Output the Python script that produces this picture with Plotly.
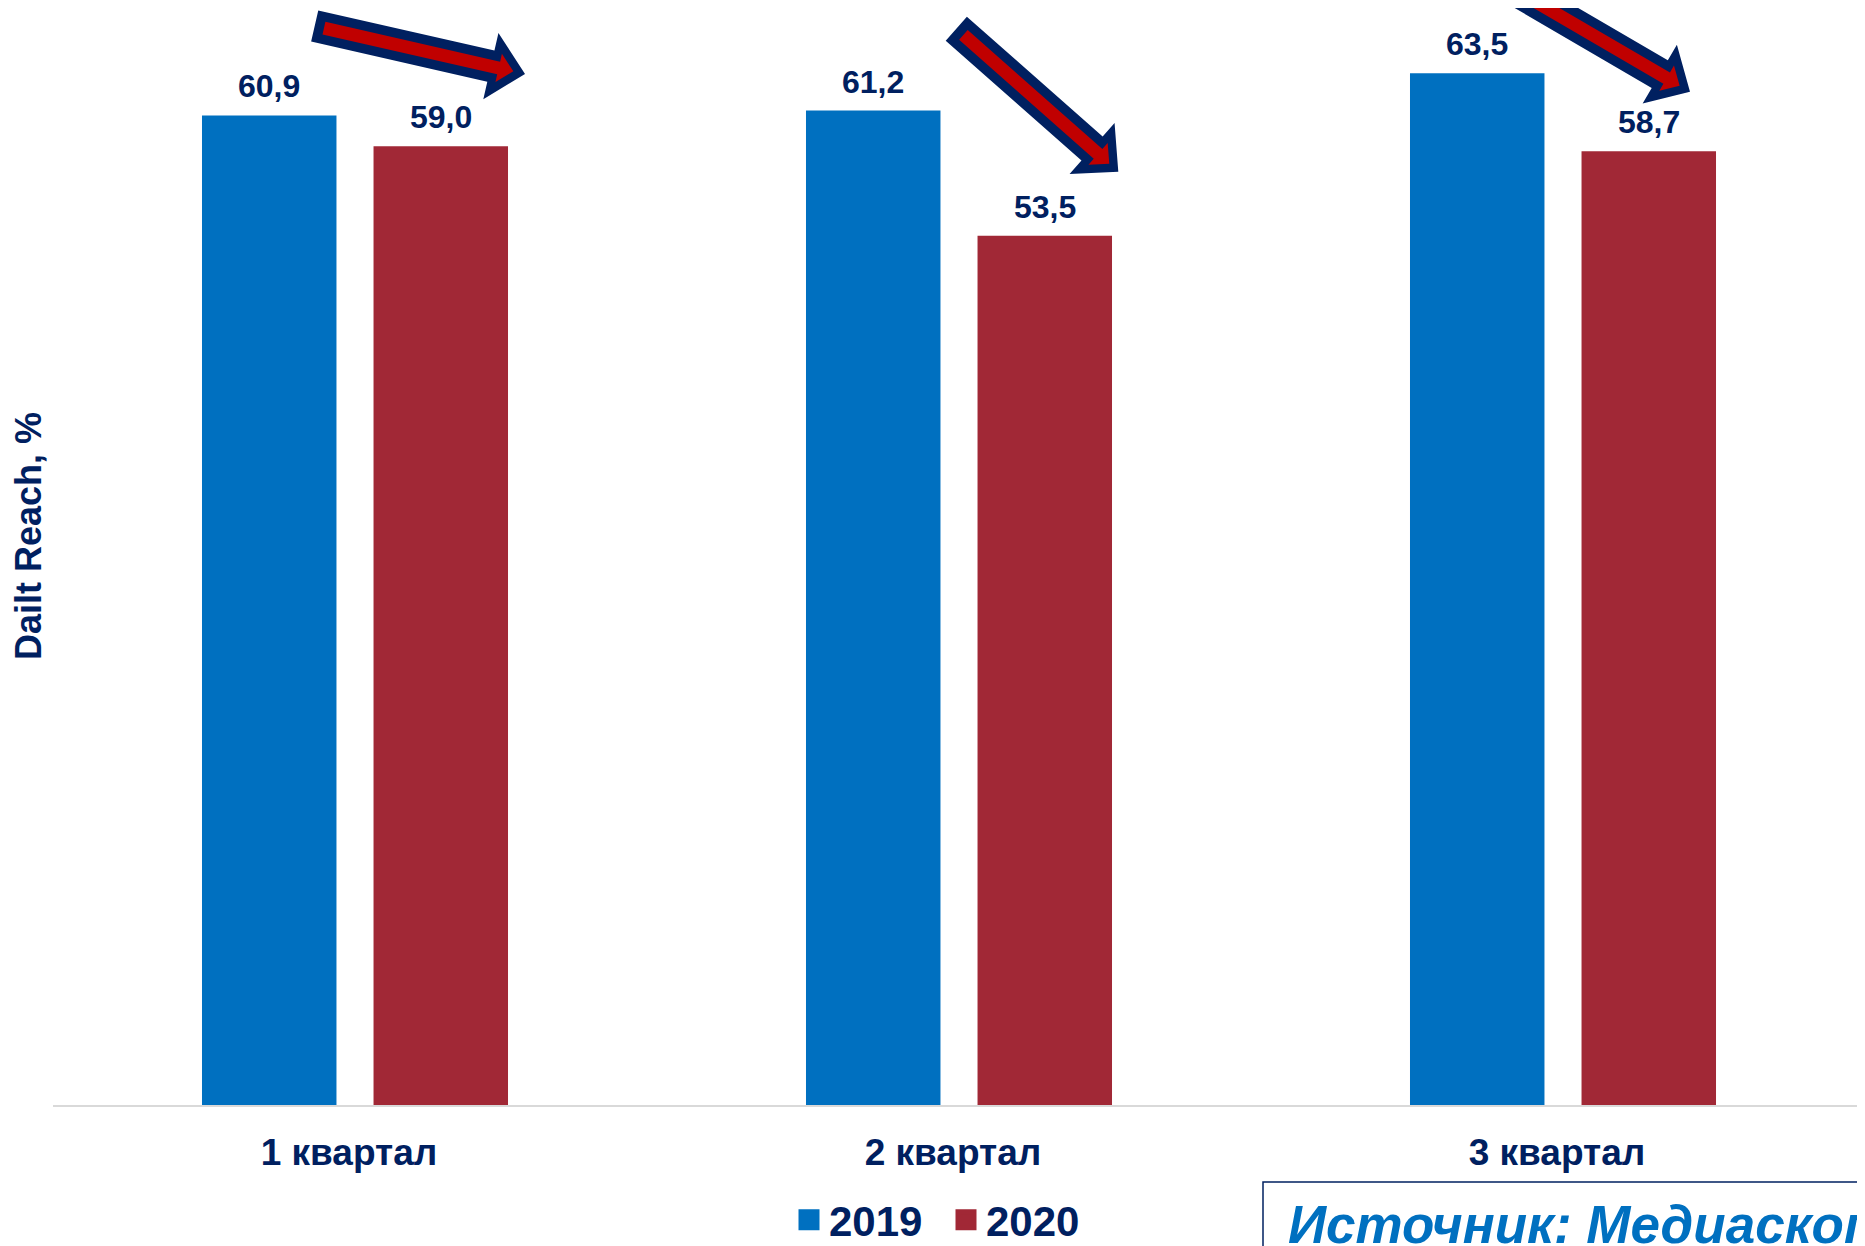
import plotly.graph_objects as go
import math

# ---------------- data ----------------
categories = ["1 квартал", "2 квартал", "3 квартал"]
values_2019 = [60.9, 61.2, 63.5]
values_2020 = [59.0, 53.5, 58.7]
labels_2019 = ["60,9", "61,2", "63,5"]
labels_2020 = ["59,0", "53,5", "58,7"]
series_names = ["2019", "2020"]
y_title = "Dailt Reach, %"
source_text = "Источник: Медиаскоп"

# ---------------- styles ----------------
OFF = 8                       # page body margin
W, H = 1865 - OFF, 1246 - OFF
PAGE_BOTTOM = 1105            # page y of the x axis line
ML, MR, MT = 53 - OFF, 0, 0
MB = H - (PAGE_BOTTOM - OFF)
PW, PH = W - ML - MR, H - MT - MB
PX_PER_UNIT = 16.25
Y_MAX = PH / PX_PER_UNIT
NAVY = "#002060"
BLUE = "#0070C0"
RED = "#A12836"
ARROW_RED = "#C00000"
FONT = "Liberation Sans, Arial, sans-serif"


def px(x, y):
    """page pixel -> paper coordinates"""
    x -= OFF
    y -= OFF
    return (x - ML) / PW, (MT + PH - y) / PH


fig = go.Figure()

fig.add_trace(go.Bar(x=categories, y=values_2019, name=series_names[0],
                     marker=dict(color=BLUE, line=dict(width=0)), showlegend=False))
fig.add_trace(go.Bar(x=categories, y=values_2020, name=series_names[1],
                     marker=dict(color=RED, line=dict(width=0)), showlegend=False))

# legend entries (square markers)
for nm, col in zip(series_names, [BLUE, RED]):
    fig.add_trace(go.Scatter(x=[None], y=[None], mode="markers", name=nm,
                             marker=dict(symbol="square", size=16, color=col,
                                         line=dict(color=col, width=5))))

# value labels
offset = 85.7
for cat, v, t in zip(categories, values_2019, labels_2019):
    fig.add_annotation(x=cat, y=v, text=t, showarrow=False, xshift=-offset, yshift=29,
                       yanchor="middle", font=dict(family=FONT, size=32, color=NAVY, weight="bold"))
for cat, v, t in zip(categories, values_2020, labels_2020):
    fig.add_annotation(x=cat, y=v, text=t, showarrow=False, xshift=offset, yshift=29,
                       yanchor="middle", font=dict(family=FONT, size=32, color=NAVY, weight="bold"))

# y-axis title
xt, yt = px(28, 536)
fig.add_annotation(x=xt, y=yt, xref="paper", yref="paper", text=y_title, showarrow=False,
                   textangle=-90, xanchor="center", yanchor="middle",
                   font=dict(family=FONT, size=36, color=NAVY, weight="bold"))

# decorative arrows (page pixel geometry: tail, tip)
arrows = [((314.7, 26.0), (525.0, 74.0)),
          ((956.3, 28.7), (1118.3, 171.7)),
          ((1495.0, -22.0), (1690.0, 91.7))]


def arrow_path(tail, tip, sw, hw, hl):
    dx, dy = tip[0] - tail[0], tip[1] - tail[1]
    L = math.hypot(dx, dy)
    ux, uy = dx / L, dy / L
    nx, ny = -uy, ux
    bx, by = tip[0] - ux * hl, tip[1] - uy * hl
    pts = [(tail[0] + nx * sw / 2, tail[1] + ny * sw / 2),
           (bx + nx * sw / 2, by + ny * sw / 2),
           (bx + nx * hw, by + ny * hw),
           tip,
           (bx - nx * hw, by - ny * hw),
           (bx - nx * sw / 2, by - ny * sw / 2),
           (tail[0] - nx * sw / 2, tail[1] - ny * sw / 2)]
    pp = [px(x, y) for x, y in pts]
    return "M " + " L ".join(f"{a:.5f},{b:.5f}" for a, b in pp) + " Z"


for tail, tip in arrows:
    dx, dy = tip[0] - tail[0], tip[1] - tail[1]
    L = math.hypot(dx, dy)
    ux, uy = dx / L, dy / L
    fig.add_shape(type="path", xref="paper", yref="paper",
                  path=arrow_path(tail, tip, 32, 34, 35),
                  fillcolor=NAVY, line=dict(width=0), layer="above")
    itail = (tail[0] + ux * 9.5, tail[1] + uy * 9.5)
    itip = (tip[0] - ux * 12, tip[1] - uy * 12)
    fig.add_shape(type="path", xref="paper", yref="paper",
                  path=arrow_path(itail, itip, 13, 14.5, 15),
                  fillcolor=ARROW_RED, line=dict(width=0), layer="above")

# source box
bx0, by0 = px(1263, 1182)
bx1, by1 = px(1960, 1320)
fig.add_shape(type="rect", xref="paper", yref="paper", x0=bx0, y0=by0, x1=bx1, y1=by1,
              line=dict(color=NAVY, width=1.5), fillcolor="rgba(0,0,0,0)")
sx, sy = px(1286, 1224)
fig.add_annotation(x=sx, y=sy, xref="paper", yref="paper", text=source_text, showarrow=False,
                   xanchor="left", yanchor="middle",
                   font=dict(family=FONT, size=53, color=BLUE, weight="bold", style="italic"))

lx, ly = px(946, 1220)
fig.update_layout(
    width=W, height=H,
    margin=dict(l=ML, r=MR, t=MT, b=MB, autoexpand=False),
    paper_bgcolor="white", plot_bgcolor="white",
    barmode="group", bargap=0.432, bargroupgap=0.216,
    font=dict(family=FONT, color=NAVY),
    legend=dict(orientation="h", x=lx, y=ly, xanchor="center", yanchor="middle",
                entrywidth=112,
                font=dict(family=FONT, size=42, color=NAVY, weight="bold"),
                bgcolor="rgba(0,0,0,0)"),
    xaxis=dict(showline=True, linecolor="#D9D9D9", linewidth=2, ticks="",
               showgrid=False, zeroline=False, ticklabelstandoff=14, ticklabelshift=-6,
               tickfont=dict(family=FONT, size=37, color=NAVY, weight="bold")),
    yaxis=dict(range=[0, Y_MAX], showticklabels=False, showgrid=False, zeroline=False,
               showline=False, ticks=""),
)

fig.write_html("out.html")
